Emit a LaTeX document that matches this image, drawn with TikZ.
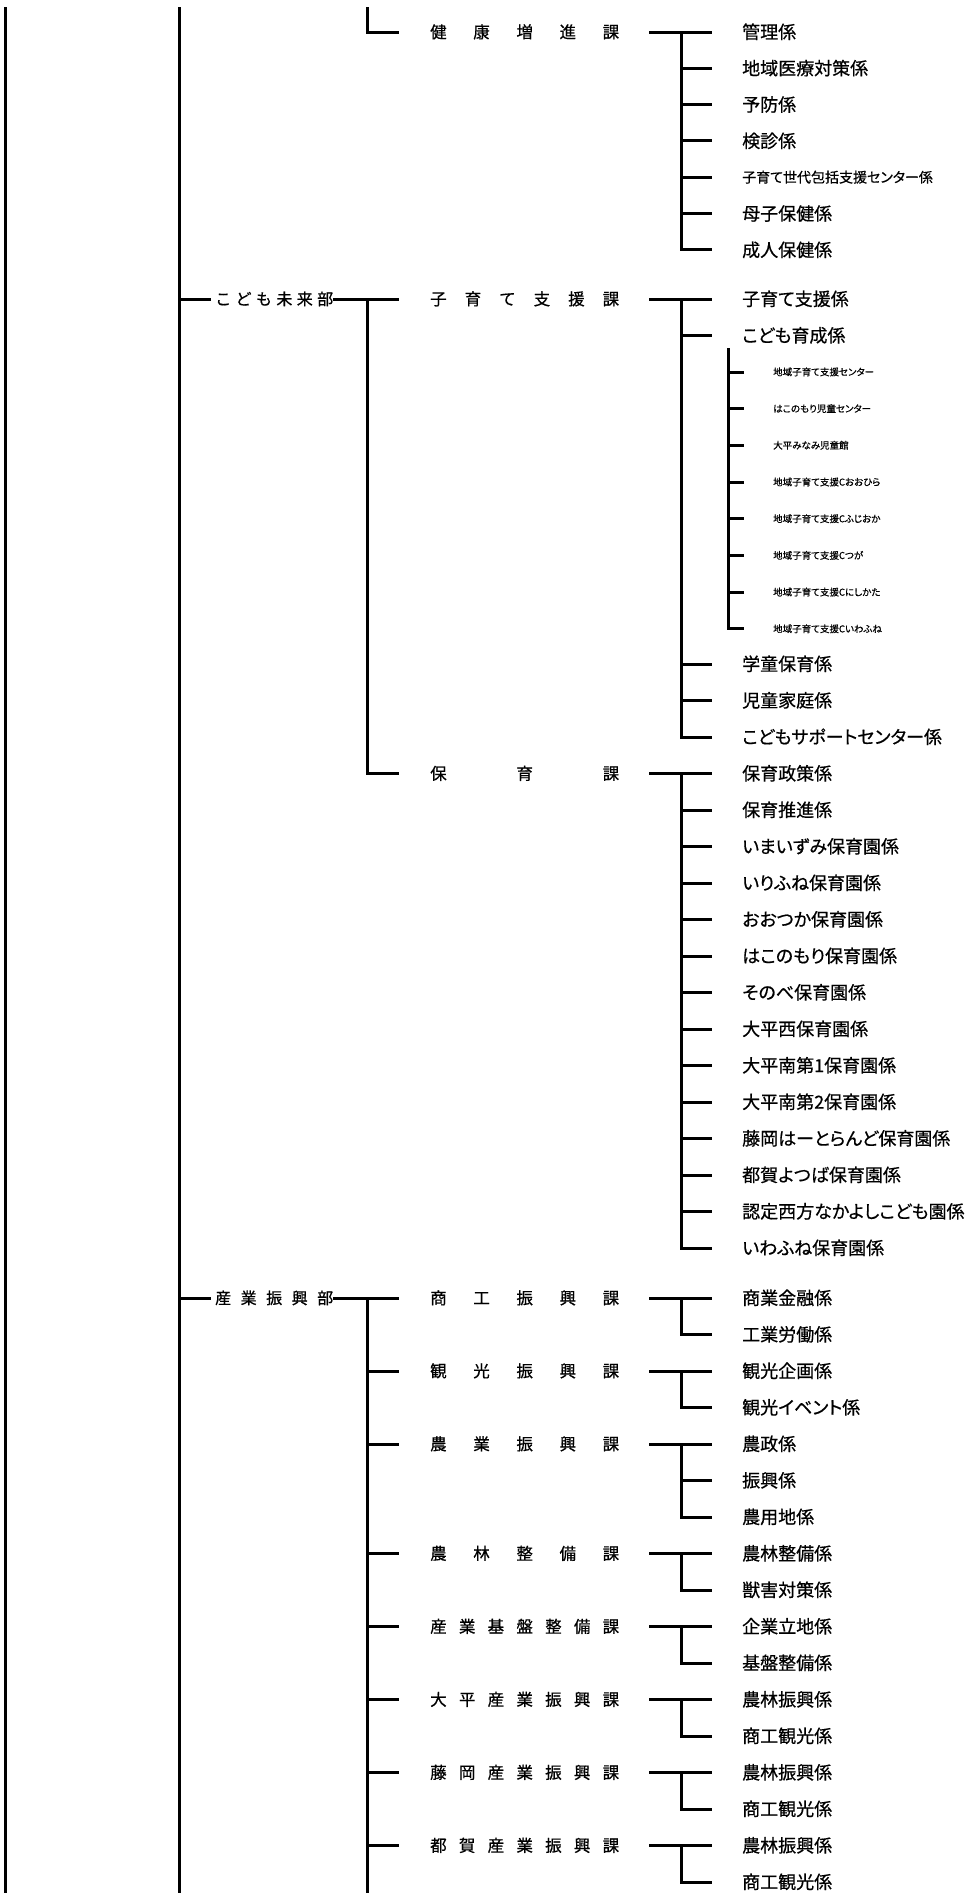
\documentclass[tikz,border=0pt]{standalone}
\usepackage{fontspec}
\newfontfamily\jpf{Noto Sans CJK JP}[FakeBold=0.6]
\newfontfamily\jpp{Noto Sans CJK JP}[RawFeature=+palt,FakeBold=0.6]
\newcommand\spr[2]{\makebox[#1][s]{#2}}
\newcommand\kaGroup[5]{% id, y, step, spread text, list of kakari
  \node[ka] (#1) at (430,#2) {\spr{189pt}{#4}};
  \coordinate (#1j) at (681,#2);
  \foreach \t [count=\i from 0] in {#5} {\node[kk] (#1k\i) at (742,{#2+#3*\i}) {\t}; \xdef\lastI{\i}}
  \draw[ln,shorten <=30pt,shorten >=30pt] (#1.east) -- (#1k0.west);
  \foreach \i in {1,...,\lastI} {\draw[ln,shorten >=30pt] (#1k\i.west -| #1j) -- (#1k\i.west);}
  \draw[ln,shorten >=30pt] (#1j) |- (#1k\lastI.west);
}
\begin{document}
\begin{tikzpicture}[x=1pt,y=-1pt,
  ln/.style={line width=3pt},
  kk/.style={anchor=west,inner sep=0pt,font=\jpp\fontsize{18}{20}\selectfont,text height=14.6pt,text depth=1.3pt},
  kks/.style={kk,font=\jpp\fontsize{14}{16}\selectfont,text height=11.3pt,text depth=1pt},
  kkt/.style={kk,font=\jpp\fontsize{9.5}{11}\selectfont,text height=7.7pt,text depth=0.7pt},
  ka/.style={anchor=west,inner sep=0pt,font=\jpf\fontsize{16.5}{18}\selectfont,text height=13.4pt,text depth=1.15pt},
  bu/.style={ka,font=\jpf\fontsize{16}{18}\selectfont,text height=13pt,text depth=1.1pt}]
\useasboundingbox (0,0) rectangle (969,1898);
\fill[white] (0,0) rectangle (969,1898);

% main verticals
\coordinate (t1) at (5,7); \coordinate (e1) at (5,1893);
\coordinate (t2) at (179,7); \coordinate (e2) at (179,1893);
\draw[ln] (t1) -- (e1);
\draw[ln] (t2) -- (e2);

% 健康増進課
\coordinate (t3) at (367,7);
\node[ka] (kaA) at (430,32) {\spr{189pt}{健\hfill 康\hfill 増\hfill 進\hfill 課}};
\draw[ln,shorten >=31pt] (t3) |- (kaA.west);
\coordinate (jA) at (681,32);
\foreach \s/\t [count=\i from 0] in {kk/管理係,kk/地域医療対策係,kk/予防係,kk/検診係,kks/子育て世代包括支援センター係,kk/母子保健係,kk/成人保健係}
  {\node[\s] (A\i) at (742,{32+36.33*\i}) {\t};}
\draw[ln,shorten <=30pt,shorten >=30pt] (kaA.east) -- (A0.west);
\foreach \i in {1,...,5} {\draw[ln,shorten >=30pt] (A\i.west -| jA) -- (A\i.west);}
\draw[ln,shorten >=30pt] (jA) |- (A6.west);

% こども未来部
\coordinate (b1) at (179,299);
\node[bu] (bu1) at (215,299) {\spr{118pt}{こ\hfill ど\hfill も\hfill 未\hfill 来\hfill 部}};
\draw[ln,shorten >=4pt] (b1) -- (bu1.west);
\node[ka] (kaB) at (430,299) {\spr{189pt}{子\hfill 育\hfill て\hfill 支\hfill 援\hfill 課}};
\draw[ln,shorten >=31pt] (bu1.east) -- (kaB.west);
\coordinate (j2) at (367,299);

% 子育て支援課 kakari
\coordinate (jB) at (681,299);
\node[kk] (B0) at (742,299) {子育て支援係};
\node[kk] (B1) at (742,335.5) {こども育成係};
\node[kk] (B2) at (742,664) {学童保育係};
\node[kk] (B3) at (742,700.5) {児童家庭係};
\node[kk] (B4) at (742,737) {こどもサポートセンター係};
\draw[ln,shorten <=30pt,shorten >=30pt] (kaB.east) -- (B0.west);
\foreach \i in {1,2,3} {\draw[ln,shorten >=30pt] (B\i.west -| jB) -- (B\i.west);}
\draw[ln,shorten >=30pt] (jB) |- (B4.west);

% small facilities
\coordinate (jT) at (728,348);
\foreach \t [count=\i from 0] in {地域子育て支援センター,はこのもり児童センター,大平みなみ児童館,地域子育て支援Cおおひら,地域子育て支援Cふじおか,地域子育て支援Cつが,地域子育て支援Cにしかた,地域子育て支援Cいわふね}
  {\node[kkt] (T\i) at (773,{372+36.7*\i}) {\t};}
\foreach \i in {0,...,6} {\draw[ln,shorten >=29pt] (T\i.west -| jT) -- (T\i.west);}
\draw[ln,shorten >=29pt] (jT) |- (T7.west);

% 保育課
\kaGroup{kaC}{773.5}{36.5}{保\hfill 育\hfill 課}{保育政策係,保育推進係,いまいずみ保育園係,いりふね保育園係,おおつか保育園係,はこのもり保育園係,そのべ保育園係,大平西保育園係,大平南第1保育園係,大平南第2保育園係,藤岡はーとらんど保育園係,都賀よつば保育園係,認定西方なかよしこども園係,いわふね保育園係}
\draw[ln,shorten >=31pt] (j2) |- (kaC.west);

% 産業振興部
\coordinate (b2s) at (179,1298);
\node[bu] (bu2) at (215,1298) {\spr{118pt}{産\hfill 業\hfill 振\hfill 興\hfill 部}};
\draw[ln,shorten >=4pt] (b2s) -- (bu2.west);
\coordinate (j3) at (367,1298); \coordinate (e3) at (367,1893);
\draw[ln] (j3) -- (e3);

\kaGroup{D0}{1298}{36.5}{商\hfill 工\hfill 振\hfill 興\hfill 課}{商業金融係,工業労働係}
\kaGroup{D1}{1371}{36.5}{観\hfill 光\hfill 振\hfill 興\hfill 課}{観光企画係,観光イベント係}
\kaGroup{D2}{1444}{36.5}{農\hfill 業\hfill 振\hfill 興\hfill 課}{農政係,振興係,農用地係}
\kaGroup{D3}{1553.5}{36.5}{農\hfill 林\hfill 整\hfill 備\hfill 課}{農林整備係,獣害対策係}
\kaGroup{D4}{1626.5}{36.5}{産\hfill 業\hfill 基\hfill 盤\hfill 整\hfill 備\hfill 課}{企業立地係,基盤整備係}
\kaGroup{D5}{1699.5}{36.5}{大\hfill 平\hfill 産\hfill 業\hfill 振\hfill 興\hfill 課}{農林振興係,商工観光係}
\kaGroup{D6}{1772.5}{36.5}{藤\hfill 岡\hfill 産\hfill 業\hfill 振\hfill 興\hfill 課}{農林振興係,商工観光係}
\kaGroup{D7}{1845.5}{36.5}{都\hfill 賀\hfill 産\hfill 業\hfill 振\hfill 興\hfill 課}{農林振興係,商工観光係}

\draw[ln,shorten >=31pt] (bu2.east) -- (D0.west);
\foreach \d in {D1,D2,D3,D4,D5,D6,D7} {\draw[ln,shorten >=31pt] (\d.west -| j3) -- (\d.west);}
\end{tikzpicture}
\end{document}
